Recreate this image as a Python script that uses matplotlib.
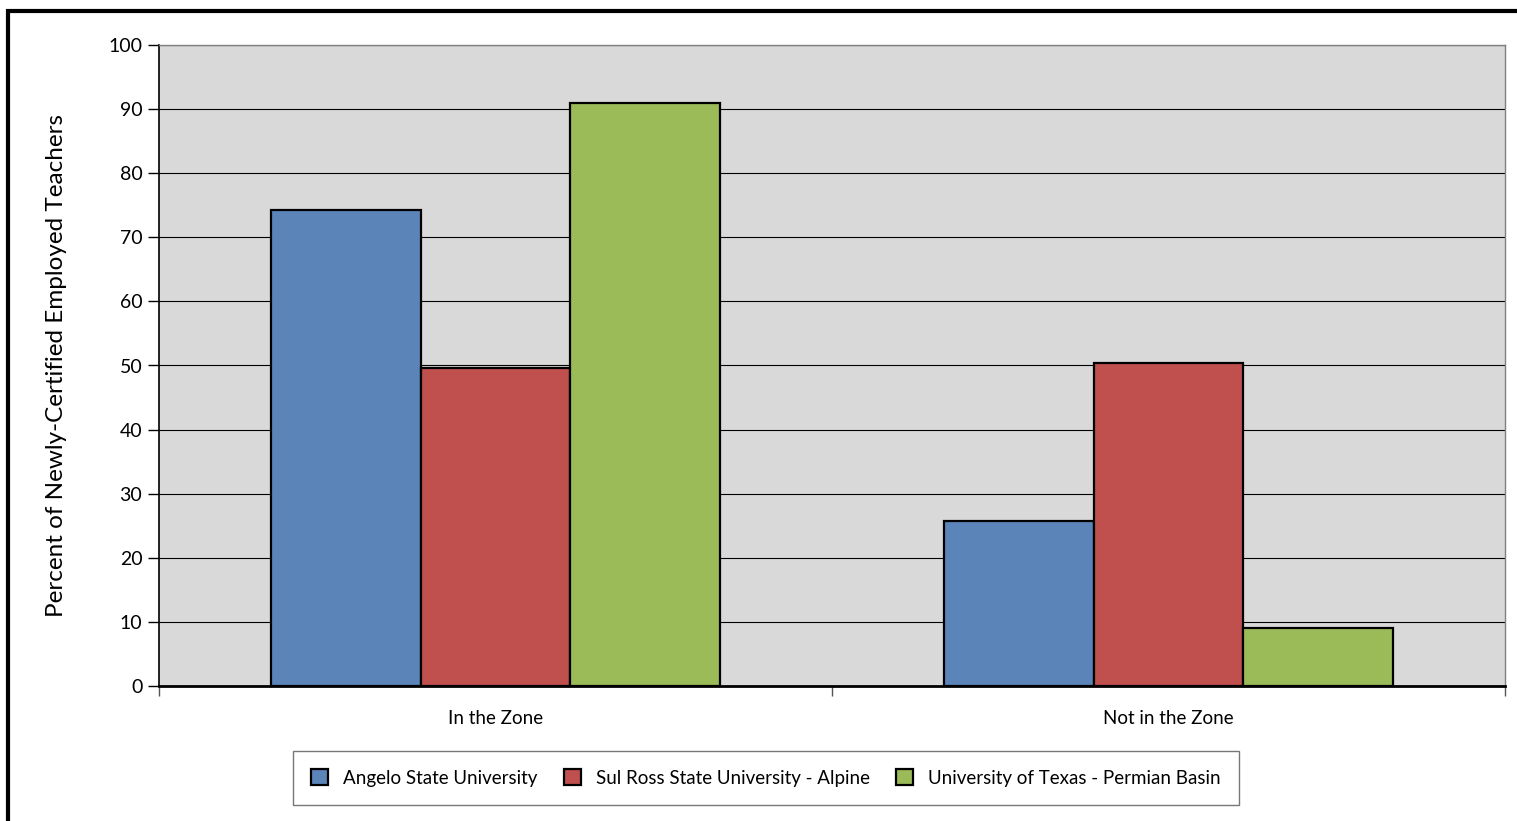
import numpy as np
import matplotlib.pyplot as plt
from matplotlib.patches import Rectangle

categorias = ["In the Zone", "Not in the Zone"]
universidades = ["Angelo State University",
                 "Sul Ross State University - Alpine",
                 "University of Texas - Permian Basin"]
angelo   = [74.2, 25.8]
sul_ross = [49.6, 50.4]
utpb     = [90.9, 9.1]
valores  = [angelo, sul_ross, utpb]
colores  = ["#5B84B9", "#C0504D", "#9BBB59"]

plt.rcParams["font.family"] = ["Lato", "DejaVu Sans"]

fig = plt.figure(figsize=(15.17, 8.21), dpi=100)
ax = fig.add_axes([159 / 1517, 1 - 686 / 821, 1346 / 1517, 641 / 821])
ax.set_facecolor("#D9D9D9")

x = np.arange(len(categorias))
ancho = 0.2225
for i, (serie, color, nombre) in enumerate(zip(valores, colores, universidades)):
    ax.bar(x + (i - 1) * ancho, serie, width=ancho, color=color,
           edgecolor="black", linewidth=1.6, label=nombre, zorder=3)

ax.set_xlim(-0.5, 1.5)
ax.set_ylim(0, 100)
ax.set_yticks(range(0, 101, 10))
ax.yaxis.grid(True, color="black", linewidth=0.8, zorder=1)
ax.set_axisbelow(True)

# ticks del eje x en los bordes de categoria, etiquetas en el centro
ax.set_xticks([-0.5, 0.5, 1.5])
ax.set_xticklabels([])
ax.set_xticks(x, minor=True)
ax.set_xticklabels(categorias, minor=True)
ax.tick_params(axis="x", which="minor", length=0, pad=17, labelsize=13.5)
ax.tick_params(axis="x", which="major", length=7, width=1, color="#555555", direction="out")
ax.tick_params(axis="y", length=8, width=1, direction="out", labelsize=14, pad=4)

for lado in ["left", "bottom"]:
    ax.spines[lado].set_color("black")
    ax.spines[lado].set_linewidth(1.2)
for lado in ["top", "right"]:
    ax.spines[lado].set_color("#808080")
    ax.spines[lado].set_linewidth(1.0)
ax.spines["bottom"].set_linewidth(2.0)

ax.set_ylabel("Percent of Newly-Certified Employed Teachers", fontsize=17.5, labelpad=30)

leg = fig.legend(loc="center", bbox_to_anchor=(766 / 1517, 1 - 778 / 821),
                 ncol=3, fontsize=13.5, frameon=True, fancybox=False,
                 edgecolor="#555555", handlelength=0.9, handleheight=0.9,
                 columnspacing=1.4, handletextpad=0.8, borderpad=1.0,
                 borderaxespad=0)
leg.get_frame().set_linewidth(1.0)

# borde negro de la figura (solo visibles arriba e izquierda)
fig.patches.append(Rectangle((7.5 / 1517, -0.1), 1.2, 1 - 11 / 821 + 0.1,
                             transform=fig.transFigure, fill=False,
                             edgecolor="black", linewidth=3))

fig.savefig("out.png", dpi=100)
